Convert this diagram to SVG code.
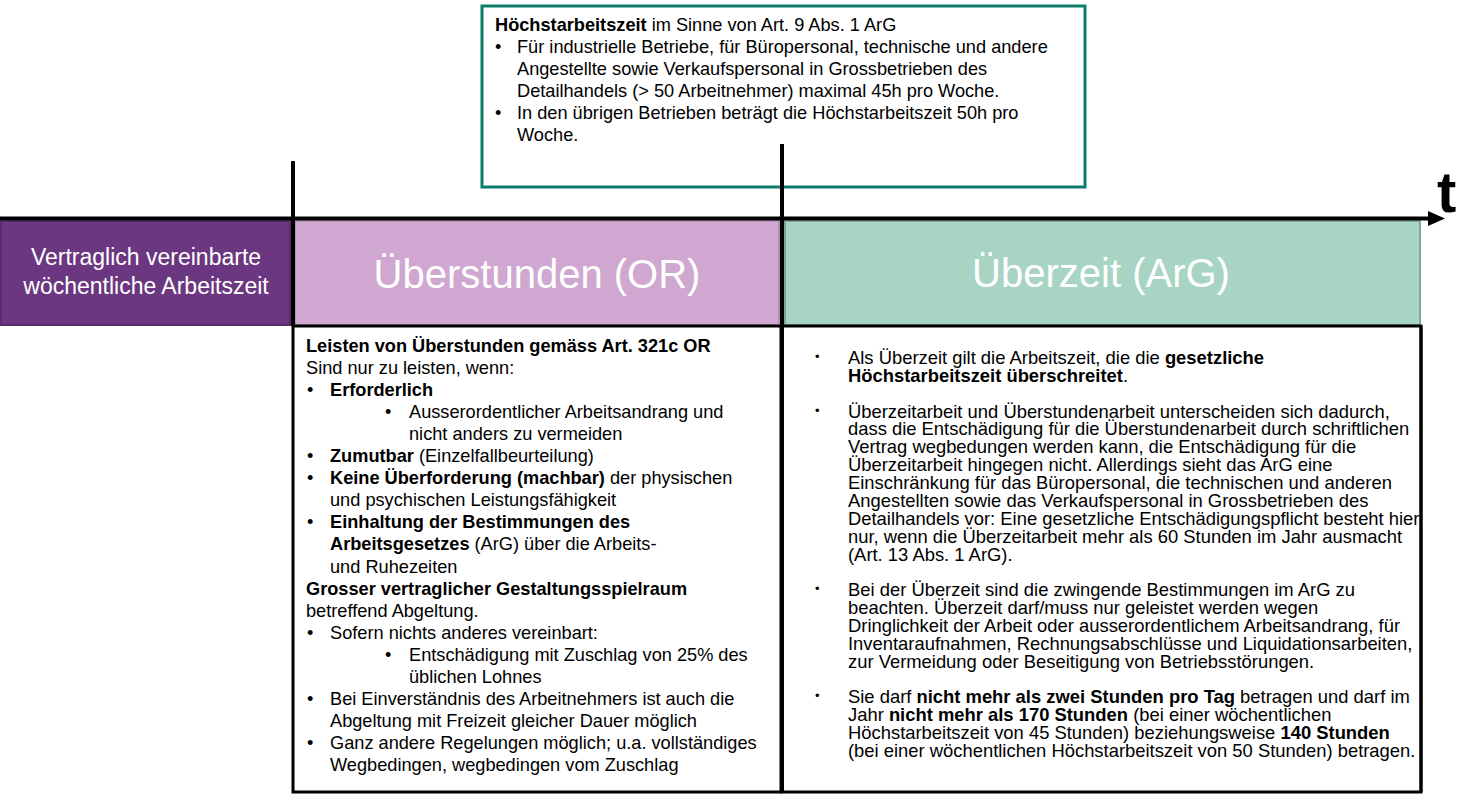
<svg xmlns="http://www.w3.org/2000/svg" width="1466" height="799" viewBox="0 0 1466 799">
<style>
text{font-family:"Liberation Sans",Arial,sans-serif;fill:#000}
.t18{font-size:18.2px}
.r18{font-size:18.4px}
.b{font-weight:bold}
.hdr{fill:#fff;text-anchor:middle}
.box{fill:#fff;stroke:#000;stroke-width:3}
.sb{font-size:13px}
</style>
<rect width="1466" height="799" fill="#fff"/>

<g id="node-hoechstarbeitszeit">
<rect x="482" y="6" width="603" height="181" fill="#fff" stroke="#0B7F6B" stroke-width="3"/>
<text class="t18" x="495" y="31"><tspan class="b">Höchstarbeitszeit</tspan> im Sinne von Art. 9 Abs. 1 ArG</text>
<text class="t18" x="495" y="53">•</text>
<text class="t18" x="517" y="53">Für industrielle Betriebe, für Büropersonal, technische und andere</text>
<text class="t18" x="517" y="75">Angestellte sowie Verkaufspersonal in Grossbetrieben des</text>
<text class="t18" x="517" y="97">Detailhandels (&gt; 50 Arbeitnehmer) maximal 45h pro Woche.</text>
<text class="t18" x="495" y="119">•</text>
<text class="t18" x="517" y="119">In den übrigen Betrieben beträgt die Höchstarbeitszeit 50h pro</text>
<text class="t18" x="517" y="141">Woche.</text>
</g>

<g id="node-vertraglich">
<rect x="1" y="221" width="289" height="104" fill="#6A3780" stroke="#5A2C6C" stroke-width="2"/>
<text class="hdr" x="146" y="265" font-size="23">Vertraglich vereinbarte</text>
<text class="hdr" x="146" y="294" font-size="23">wöchentliche Arbeitszeit</text>
</g>

<g id="node-ueberstunden">
<rect x="295" y="221" width="484" height="104" fill="#CFA7D0" stroke="#B68FB8" stroke-width="2"/>
<text class="hdr" x="537" y="288" font-size="40">Überstunden (OR)</text>
</g>

<g id="node-ueberzeit">
<rect x="785" y="221" width="635" height="104" fill="#A8D5C3" stroke="#7FA696" stroke-width="2"/>
<text class="hdr" x="1101" y="287" font-size="40">Überzeit (ArG)</text>
</g>

<g id="node-ueberstunden-text">
<rect class="box" x="293" y="326" width="488" height="466"/>
<text class="t18 b" x="306" y="351.5">Leisten von Überstunden gemäss Art. 321c OR</text>
<text class="t18" x="306" y="373.6">Sind nur zu leisten, wenn:</text>
<text class="t18" x="307" y="395.7">•</text>
<text class="t18 b" x="330" y="395.7">Erforderlich</text>
<text class="t18" x="385" y="417.8">•</text>
<text class="t18" x="409" y="417.8">Ausserordentlicher Arbeitsandrang und</text>
<text class="t18" x="409" y="439.9">nicht anders zu vermeiden</text>
<text class="t18" x="307" y="462">•</text>
<text class="t18" x="330" y="462"><tspan class="b">Zumutbar</tspan> (Einzelfallbeurteilung)</text>
<text class="t18" x="307" y="484.1">•</text>
<text class="t18" x="330" y="484.1"><tspan class="b">Keine Überforderung (machbar)</tspan> der physischen</text>
<text class="t18" x="330" y="506.2">und psychischen Leistungsfähigkeit</text>
<text class="t18" x="307" y="528.3">•</text>
<text class="t18 b" x="330" y="528.3">Einhaltung der Bestimmungen des</text>
<text class="t18" x="330" y="550.4"><tspan class="b">Arbeitsgesetzes</tspan> (ArG) über die Arbeits-</text>
<text class="t18" x="330" y="572.5">und Ruhezeiten</text>
<text class="t18 b" x="306" y="594.6">Grosser vertraglicher Gestaltungsspielraum</text>
<text class="t18" x="306" y="616.7">betreffend Abgeltung.</text>
<text class="t18" x="307" y="638.8">•</text>
<text class="t18" x="330" y="638.8">Sofern nichts anderes vereinbart:</text>
<text class="t18" x="385" y="660.9">•</text>
<text class="t18" x="409" y="660.9">Entschädigung mit Zuschlag von 25% des</text>
<text class="t18" x="409" y="683">üblichen Lohnes</text>
<text class="t18" x="307" y="705.1">•</text>
<text class="t18" x="330" y="705.1">Bei Einverständnis des Arbeitnehmers ist auch die</text>
<text class="t18" x="330" y="727.2">Abgeltung mit Freizeit gleicher Dauer möglich</text>
<text class="t18" x="307" y="749.3">•</text>
<text class="t18" x="330" y="749.3">Ganz andere Regelungen möglich; u.a. vollständiges</text>
<text class="t18" x="330" y="771.4">Wegbedingen, wegbedingen vom Zuschlag</text>
</g>

<g id="node-ueberzeit-text">
<rect class="box" x="782" y="326" width="639" height="466"/>
<text class="sb" x="815" y="361">•</text>
<text class="r18" x="848" y="364">Als Überzeit gilt die Arbeitszeit, die die <tspan class="b">gesetzliche</tspan></text>
<text class="r18" x="848" y="381.9"><tspan class="b">Höchstarbeitszeit überschreitet</tspan>.</text>
<text class="sb" x="815" y="414.6">•</text>
<text class="r18" x="848" y="417.6">Überzeitarbeit und Überstundenarbeit unterscheiden sich dadurch,</text>
<text class="r18" x="848" y="435.4">dass die Entschädigung für die Überstundenarbeit durch schriftlichen</text>
<text class="r18" x="848" y="453.3">Vertrag wegbedungen werden kann, die Entschädigung für die</text>
<text class="r18" x="848" y="471.2">Überzeitarbeit hingegen nicht. Allerdings sieht das ArG eine</text>
<text class="r18" x="848" y="489">Einschränkung für das Büropersonal, die technischen und anderen</text>
<text class="r18" x="848" y="506.9">Angestellten sowie das Verkaufspersonal in Grossbetrieben des</text>
<text class="r18" x="848" y="524.8">Detailhandels vor: Eine gesetzliche Entschädigungspflicht besteht hier</text>
<text class="r18" x="848" y="542.6">nur, wenn die Überzeitarbeit mehr als 60 Stunden im Jahr ausmacht</text>
<text class="r18" x="848" y="560.5">(Art. 13 Abs. 1 ArG).</text>
<text class="sb" x="815" y="593.2">•</text>
<text class="r18" x="848" y="596.2">Bei der Überzeit sind die zwingende Bestimmungen im ArG zu</text>
<text class="r18" x="848" y="614">beachten. Überzeit darf/muss nur geleistet werden wegen</text>
<text class="r18" x="848" y="631.9">Dringlichkeit der Arbeit oder ausserordentlichem Arbeitsandrang, für</text>
<text class="r18" x="848" y="649.8">Inventaraufnahmen, Rechnungsabschlüsse und Liquidationsarbeiten,</text>
<text class="r18" x="848" y="667.6">zur Vermeidung oder Beseitigung von Betriebsstörungen.</text>
<text class="sb" x="815" y="700.4">•</text>
<text class="r18" x="848" y="703.4">Sie darf <tspan class="b">nicht mehr als zwei Stunden pro Tag</tspan> betragen und darf im</text>
<text class="r18" x="848" y="721.2">Jahr <tspan class="b">nicht mehr als 170 Stunden</tspan> (bei einer wöchentlichen</text>
<text class="r18" x="848" y="739.1">Höchstarbeitszeit von 45 Stunden) beziehungsweise <tspan class="b">140 Stunden</tspan></text>
<text class="r18" x="848" y="757">(bei einer wöchentlichen Höchstarbeitszeit von 50 Stunden) betragen.</text>
<path d="M1421 326 V792" stroke="#000" stroke-width="3"/>
</g>

<g id="connectors" stroke="#000" fill="none">
<path d="M0 218.5 H1430" stroke-width="4"/>
<polygon points="1428,211 1445,218.5 1428,226" fill="#000" stroke="none"/>
<path d="M293 161 V326" stroke-width="4"/>
<path d="M782 144 V792" stroke-width="4"/>
</g>
<text class="b" x="1437" y="212" font-size="58">t</text>
</svg>
